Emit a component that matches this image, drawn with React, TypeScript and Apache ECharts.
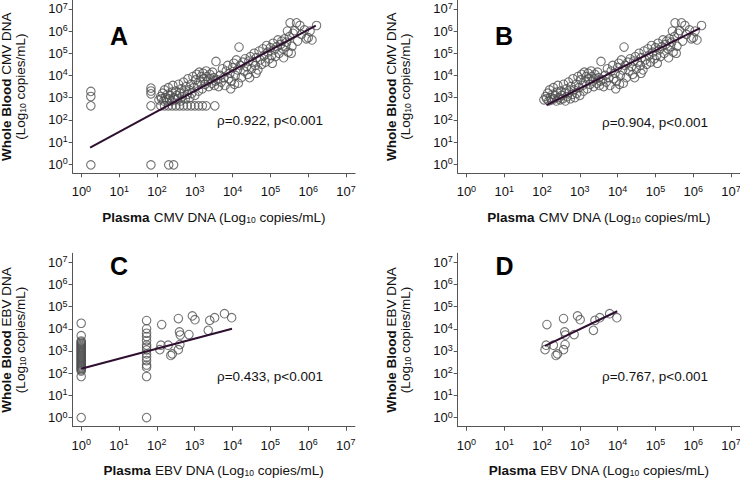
import { useEffect, useRef } from "react";
import * as echarts from "echarts";

// All values are log10 copies/mL: [plasma, whole blood]
const decades = [0, 1, 2, 3, 4, 5, 6, 7];

// CMV: pairs with both plasma and whole blood quantifiable (panel B, also in A)
const cmvBothDetected: number[][] = [
  [2.05, 2.9], [2.1, 3.05], [2.12, 2.95], [2.15, 3.2], [2.18, 2.85], [2.2, 3.35], [2.22, 3.0], [2.25, 2.9],
  [2.28, 3.15], [2.3, 3.45], [2.32, 2.95], [2.35, 3.1], [2.38, 2.85], [2.4, 3.25], [2.42, 3.55], [2.45, 3.0],
  [2.48, 2.9], [2.5, 3.3], [2.52, 3.1], [2.55, 2.95], [2.57, 3.6], [2.6, 3.2], [2.62, 2.85], [2.65, 3.4],
  [2.67, 3.05], [2.7, 3.7], [2.72, 3.25], [2.75, 2.95], [2.77, 3.5], [2.8, 3.15], [2.82, 3.85], [2.85, 3.35],
  [2.87, 3.0], [2.9, 3.6], [2.92, 3.2], [2.95, 3.95], [2.97, 3.45], [3.0, 3.1], [3.02, 3.8], [3.05, 4.05],
  [3.07, 3.55], [3.1, 3.3], [3.12, 4.15], [3.15, 3.7], [3.17, 3.95], [3.2, 3.4], [3.22, 4.1], [3.25, 3.85],
  [3.27, 3.6], [3.3, 4.2], [3.32, 3.95], [3.35, 3.75], [3.37, 3.5], [3.4, 4.05], [3.42, 3.85], [3.45, 3.65],
  [3.47, 4.15], [3.5, 3.9], [3.52, 3.55], [3.55, 3.75], [3.56, 4.63], [3.6, 3.8], [3.63, 3.5], [3.67, 4.0],
  [3.7, 3.7], [3.73, 4.3], [3.77, 3.9], [3.8, 3.55], [3.83, 4.2], [3.87, 4.45], [3.9, 3.85], [3.93, 4.1],
  [3.95, 3.4], [3.97, 3.75], [4.0, 4.35], [4.03, 4.55], [4.05, 3.6], [4.07, 4.0], [4.1, 4.7], [4.13, 4.25],
  [4.15, 3.65], [4.17, 5.28], [4.2, 4.45], [4.23, 3.9], [4.27, 4.6], [4.3, 4.2], [4.33, 4.75], [4.37, 4.4],
  [4.4, 4.05], [4.43, 4.65], [4.45, 3.9], [4.47, 4.85], [4.5, 4.3], [4.53, 4.6], [4.57, 5.0], [4.6, 4.45],
  [4.62, 4.1], [4.63, 4.8], [4.67, 4.25], [4.7, 5.1], [4.73, 4.7], [4.77, 4.5], [4.8, 5.2], [4.83, 4.9],
  [4.87, 4.6], [4.9, 5.35], [4.93, 5.05], [4.97, 4.75], [5.0, 5.25], [5.03, 4.9], [5.05, 4.55], [5.07, 5.45],
  [5.1, 5.15], [5.13, 4.85], [5.17, 5.3], [5.2, 5.6], [5.23, 5.0], [5.27, 5.4], [5.3, 5.55], [5.33, 5.2],
  [5.35, 4.8], [5.37, 5.65], [5.4, 5.3], [5.43, 5.5], [5.45, 6.0], [5.47, 5.05], [5.5, 5.75], [5.52, 6.37],
  [5.55, 5.0], [5.57, 5.32], [5.6, 5.9], [5.64, 6.02], [5.69, 6.37], [5.72, 5.55], [5.78, 6.25], [5.82, 5.85],
  [5.9, 6.05], [5.95, 5.65], [6.0, 5.7], [6.05, 6.0], [6.1, 5.6], [6.22, 6.25],
];

// CMV: pairs below quantification in plasma or whole blood (panel A only)
const cmvBelowLimit: number[][] = [
  [0.25, 3.28], [0.25, 3.05], [0.25, 2.63], [0.25, -0.03],
  [1.84, 3.43], [1.84, 3.3], [1.84, 3.17], [1.84, 2.63], [1.84, -0.03],
  [2.31, -0.03], [2.44, -0.03],
  [2.1, 2.63], [2.2, 2.63], [2.3, 2.63], [2.4, 2.63], [2.5, 2.63], [2.6, 2.63], [2.7, 2.63],
  [2.8, 2.63], [2.9, 2.63], [3.0, 2.63], [3.1, 2.63], [3.2, 2.63], [3.3, 2.63], [3.53, 2.63],
];

// EBV: pairs with both quantifiable (panel D, also in C)
const ebvBothDetected: number[][] = [
  [2.08, 3.06], [2.11, 3.26], [2.13, 4.19], [2.3, 3.26], [2.37, 2.8], [2.41, 2.87], [2.57, 4.46],
  [2.6, 3.86], [2.62, 3.72], [2.61, 3.29], [2.57, 3.06], [2.85, 3.74], [2.94, 4.58], [3.01, 4.41],
  [3.36, 3.93], [3.4, 4.38], [3.53, 4.5], [3.79, 4.68], [3.98, 4.5],
];

// EBV: pairs below quantification (panel C only)
const ebvBelowLimit: number[][] = [
  [0, 4.25], [0, 3.69], [0, 3.45], [0, 3.4], [0, 3.35], [0, 3.3], [0, 3.25], [0, 3.2], [0, 3.15],
  [0, 3.1], [0, 3.05], [0, 3.0], [0, 2.95], [0, 2.9], [0, 2.85], [0, 2.8], [0, 2.75], [0, 2.7],
  [0, 2.65], [0, 2.6], [0, 2.55], [0, 2.5], [0, 2.45], [0, 2.4], [0, 2.35], [0, 2.3], [0, 2.25],
  [0, 2.2], [0, 2.15], [0, 2.1], [0, 1.85], [0, 0],
  [1.73, 4.37], [1.73, 4.0], [1.73, 3.8], [1.73, 3.65], [1.73, 3.47], [1.73, 3.27], [1.73, 3.17],
  [1.73, 3.05], [1.73, 2.87], [1.73, 2.72], [1.73, 2.57], [1.73, 2.37], [1.73, 2.27], [1.73, 1.85],
  [1.73, 0],
];

// Regression lines (endpoints)
const fitA: number[][] = [[0.23, 0.75], [6.2, 6.25]];
const fitB: number[][] = [[2.12, 2.66], [6.18, 6.13]];
const fitC: number[][] = [[0, 2.2], [3.99, 4.0]];
const fitD: number[][] = [[2.08, 3.23], [3.99, 4.79]];

const panelLetters = ["A", "B", "C", "D"];
const virusNames = ["CMV", "CMV", "EBV", "EBV"];
const rhoTexts = ["ρ=0.922, p<0.001", "ρ=0.904, p<0.001", "ρ=0.433, p<0.001", "ρ=0.767, p<0.001"];

const FONT = "'Liberation Sans', Arial, Helvetica, sans-serif";
const TXT = "#111";

export default function App() {
  const ref = useRef<HTMLDivElement>(null);

  useEffect(() => {
    if (!ref.current) return;
    const chart = echarts.init(ref.current, undefined, { renderer: "svg" });

    const grids = [
      { left: 72.7, top: 0, width: 282.4, height: 173.3 },
      { left: 457.7, top: 0, width: 282.4, height: 173.3 },
      { left: 72.5, top: 253.3, width: 282.4, height: 173.4 },
      { left: 457.7, top: 253.3, width: 282.4, height: 173.4 },
    ].map((g) => ({ ...g, containLabel: false, outerBoundsMode: "none" }));

    const tickRich = {
      m: { fontSize: 13, fontFamily: FONT, color: TXT, lineHeight: 15 },
      e: { fontSize: 9, fontFamily: FONT, color: TXT, lineHeight: 9, verticalAlign: "top" },
    };
    const nameRich = {
      b: { fontSize: 13.5, fontWeight: "bold", fontFamily: FONT, color: TXT, lineHeight: 14 },
      n: { fontSize: 13.5, fontFamily: FONT, color: TXT, lineHeight: 14 },
      s: { fontSize: 8.5, fontFamily: FONT, color: TXT, lineHeight: 8, verticalAlign: "bottom" },
    };
    const supLabel = (v: number) => `{m|10}{e|${Math.round(v)}}`;

    const axisCommon = {
      type: "value",
      axisLine: { show: true, onZero: false, lineStyle: { color: "#555", width: 1 } },
      axisTick: { show: true, length: 4, customValues: decades, lineStyle: { color: "#555", width: 1 } },
      splitLine: { show: false },
      nameLocation: "middle",
      nameTextStyle: { rich: nameRich },
    };

    const xAxis = grids.map((_, i) => ({
      ...axisCommon,
      gridIndex: i,
      min: -0.23,
      max: 7.24,
      axisLabel: { customValues: decades, formatter: supLabel, rich: tickRich, margin: 11 },
      name: `{b|Plasma}{n| ${virusNames[i]} DNA (Log}{s|10}{n| copies/mL)}`,
      nameGap: 37,
    }));

    const yAxis = grids.map((_, i) => ({
      ...axisCommon,
      gridIndex: i,
      min: -0.41,
      max: 7.4,
      axisLabel: { customValues: decades, formatter: supLabel, rich: tickRich, margin: 5 },
      name: `{b|Whole Blood}{n| ${virusNames[i]} DNA}\n{n|(Log}{s|10}{n| copies/mL)}`,
      nameRotate: 90,
      nameGap: 45,
    }));

    const scatterStyle = {
      type: "scatter",
      symbol: "circle",
      symbolSize: 8.5,
      itemStyle: { color: "rgba(0,0,0,0)", borderColor: "#505050", borderWidth: 1.1 },
      z: 2,
    };
    const lineStyle = {
      type: "line",
      symbol: "none",
      lineStyle: { color: "#2e0f30", width: 2 },
      z: 3,
    };

    const panelData = [
      [...cmvBelowLimit, ...cmvBothDetected],
      cmvBothDetected,
      [...ebvBelowLimit, ...ebvBothDetected],
      ebvBothDetected,
    ];
    const fits = [fitA, fitB, fitC, fitD];

    const series: any[] = [];
    panelData.forEach((d, i) => {
      series.push({ ...scatterStyle, xAxisIndex: i, yAxisIndex: i, data: d });
      series.push({ ...lineStyle, xAxisIndex: i, yAxisIndex: i, data: fits[i] });
    });

    const letterPos = [
      [119, 35.5],
      [504, 35.5],
      [119, 265.5],
      [504.5, 265.5],
    ];
    const rhoPos = [
      [217, 120],
      [602, 122],
      [217, 376],
      [602, 376],
    ];

    const graphic: any[] = [];
    panelLetters.forEach((L, i) => {
      graphic.push({
        type: "text",
        x: letterPos[i][0],
        y: letterPos[i][1],
        style: {
          text: L,
          fontSize: 25,
          fontWeight: "bold",
          fontFamily: FONT,
          fill: "#000",
          align: "center",
          verticalAlign: "middle",
          textAlign: "center",
          textVerticalAlign: "middle",
        },
      });
      graphic.push({
        type: "text",
        x: rhoPos[i][0],
        y: rhoPos[i][1],
        style: {
          text: rhoTexts[i],
          fontSize: 13.5,
          fontFamily: FONT,
          fill: TXT,
          align: "left",
          verticalAlign: "middle",
          textAlign: "left",
          textVerticalAlign: "middle",
        },
      });
    });

    chart.setOption({
      animation: false,
      backgroundColor: "#fff",
      grid: grids,
      xAxis,
      yAxis,
      series,
      graphic,
    });

    return () => chart.dispose();
  }, []);

  return (
    <div
      ref={ref}
      style={{ position: "fixed", left: 0, top: 0, width: 740, height: 478 }}
    />
  );
}
